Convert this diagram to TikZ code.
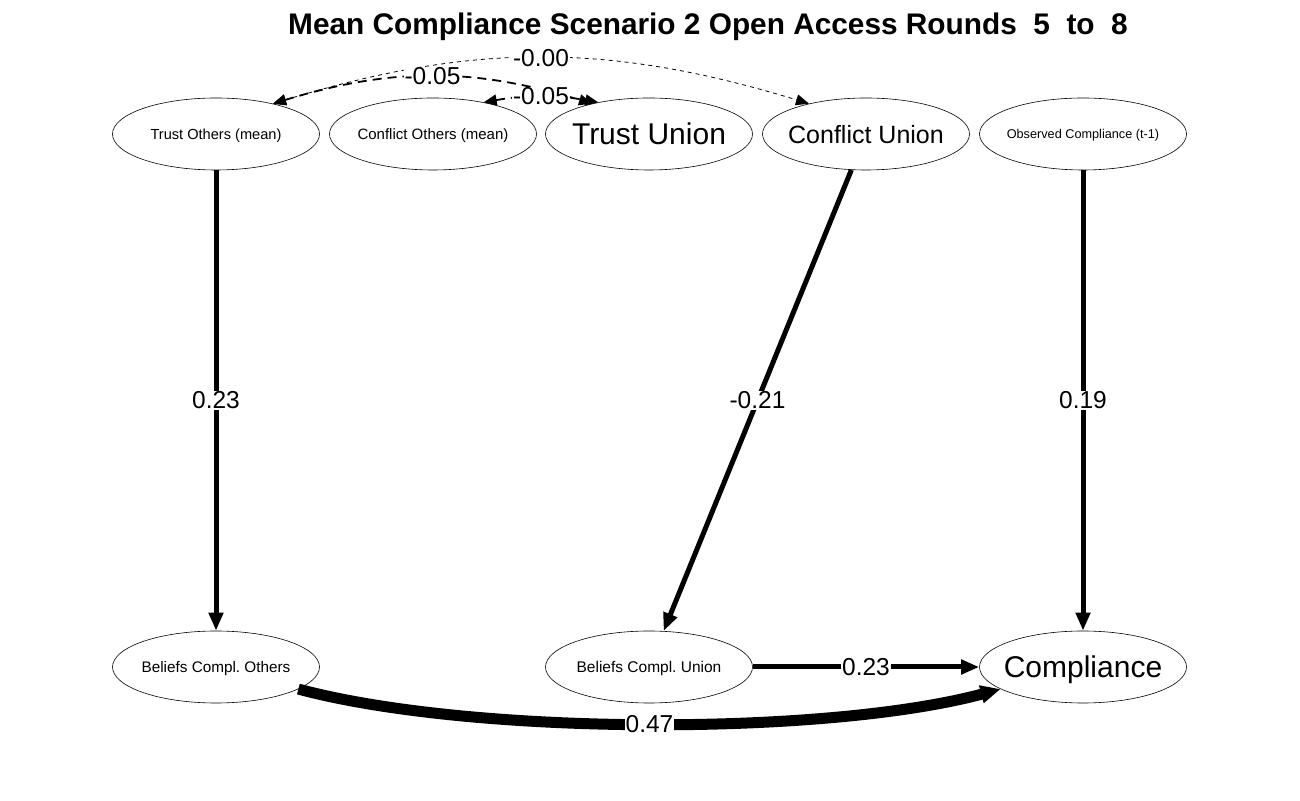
\documentclass[tikz,border=0pt]{standalone}
\usepackage{fontspec}
\setmainfont{Liberation Sans}
\usetikzlibrary{shapes.geometric,arrows.meta}
\frenchspacing

\begin{document}
\begin{tikzpicture}[x=1pt,y=1pt,
    var/.style={ellipse,draw,line width=0.6pt,minimum width=207pt,minimum height=72pt,inner sep=0pt,inner xsep=-12pt,text depth=0pt},
    lbl/.style={fill=white,inner sep=1pt,font=\fontsize{24.5}{28}\selectfont},
    regr/.style={-{Triangle[length=18pt,width=14pt]},line width=5pt},
    covar/.style={{Triangle[length=13pt,width=11pt]}-{Triangle[length=13pt,width=11pt]}}]
    \useasboundingbox (0,0) rectangle (1300,800);
    \node[font=\fontsize{29.8}{34}\selectfont\bfseries] (title) at (708,773) {Mean Compliance Scenario 2 Open Access Rounds\ \ 5\ \ to\ \ 8};
    \node[var,font=\fontsize{14.6}{17}\selectfont] (TO) at (216,666) {Trust Others (mean)};
    \node[var,font=\fontsize{15}{17}\selectfont] (CO) at (433,666) {Conflict Others (mean)};
    \node[var,font=\fontsize{30}{34}\selectfont] (TU) at (649,666) {Trust Union};
    \node[var,font=\fontsize{25}{29}\selectfont] (CU) at (866,666) {Conflict Union};
    \node[var,font=\fontsize{12.7}{15}\selectfont] (OC) at (1083,666) {Observed Compliance (t-1)};
    \node[var,font=\fontsize{15.3}{17}\selectfont] (BO) at (216,133) {Beliefs Compl. Others};
    \node[var,font=\fontsize{15.5}{17}\selectfont] (BU) at (649,133) {Beliefs Compl. Union};
    \node[var,font=\fontsize{30}{34}\selectfont] (C) at (1083,133) {Compliance};
    \draw[regr] (TO) -- node[lbl]{0.23} (BO);
    \draw[regr] (CU) -- node[lbl]{-0.21} (BU);
    \draw[regr] (OC) -- node[lbl]{0.19} (C);
    \draw[regr] (BU) -- node[lbl]{0.23} (C);
    \draw[-{Triangle[length=20pt,width=17pt]},line width=11pt] (BO) to[out=-15,in=195,looseness=0.66] node[lbl]{0.47} (C);
    \draw[covar,line width=0.8pt,dash pattern=on 4pt off 4pt] (TO.28) to[bend left=17] node[lbl]{-0.00} (CU.152);
    \draw[covar,line width=1.8pt,dash pattern=on 9pt off 6pt] (TO.28) to[bend left=17] node[lbl]{-0.05} (TU.152);
    \draw[covar,line width=1.8pt,dash pattern=on 9pt off 6pt] (CO.32) to[bend left=10] node[lbl]{-0.05} (TU.148);
\end{tikzpicture}
\end{document}
